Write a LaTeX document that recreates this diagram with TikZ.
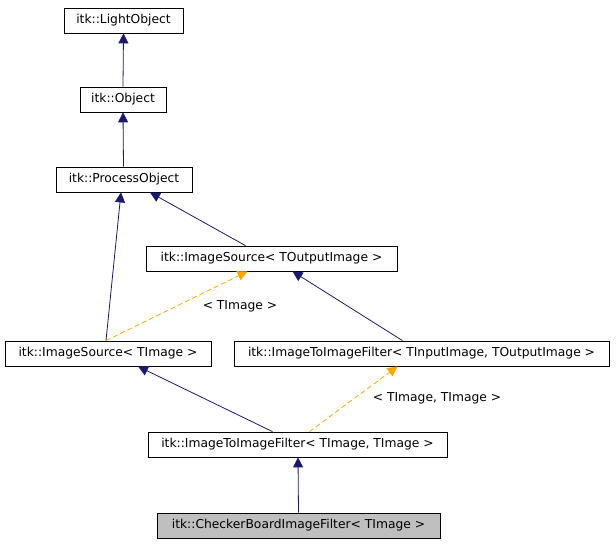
\documentclass[tikz,border=0pt]{standalone}
\usepackage{fontspec}
\setmainfont{DejaVu Sans}
\usetikzlibrary{calc,arrows.meta}
\definecolor{navy}{HTML}{191970}
\definecolor{orng}{HTML}{FFA500}
\begin{document}
\begin{tikzpicture}[x=1pt,y=-1pt,
  box/.style={draw,fill=white,minimum height=25pt,inner sep=0pt,font=\fontsize{12.3}{14}\selectfont,line width=0.8pt},
  inh/.style={navy,line width=0.8pt,-{Triangle[length=10pt,width=10pt]}},
  tmpl/.style={orng,line width=0.8pt,dashed,dash pattern=on 5pt off 3pt,-{Triangle[length=10pt,width=10pt]}},
  lbl/.style={font=\fontsize{12.3}{14}\selectfont}]
\useasboundingbox (0,0) rectangle (616,547);
\node[box,minimum width=119pt] (lo) at (123.5,20.5) {itk::LightObject};
\node[box,minimum width=86pt] (ob) at (123,99.5) {itk::Object};
\node[box,minimum width=136pt] (po) at (124,179.5) {itk::ProcessObject};
\node[box,minimum width=251pt] (iso) at (271.5,258.5) {itk::ImageSource< TOutputImage >};
\node[box,minimum width=206pt] (isi) at (108,353.5) {itk::ImageSource< TImage >};
\node[box,minimum width=375pt] (itio) at (421.5,353.5) {itk::ImageToImageFilter< TInputImage, TOutputImage >};
\node[box,minimum width=299pt] (itii) at (297.5,444.5) {itk::ImageToImageFilter< TImage, TImage >};
\node[box,minimum width=283pt,fill={rgb,255:red,191;green,191;blue,191}] (cb) at (298.5,525.5) {itk::CheckerBoardImageFilter< TImage >};
\draw[inh] (ob.north) -- (lo.south);
\draw[inh] ([xshift=-0.5pt]po.north) -- (ob.south);
\draw[inh] ([xshift=-26pt]iso.north) -- ([xshift=26pt]po.south);
\draw[inh] ([xshift=-2pt]isi.north) -- ([xshift=-3pt]po.south);
\draw[inh] ([xshift=-19pt]itio.north) -- ([xshift=21pt]iso.south);
\draw[inh] ([xshift=-25pt]itii.north) -- ([xshift=30pt]isi.south);
\draw[inh] (cb.north) -- ([xshift=0.5pt]itii.south);
\draw[tmpl] ([xshift=-2pt]isi.north) -- ([xshift=-24pt]iso.south);
\node[lbl] (l1) at (240,306) {< TImage >};
\draw[tmpl] ([xshift=12pt]itii.north) -- ([xshift=-24pt]itio.south);
\node[lbl] (l2) at (437,398) {< TImage, TImage >};
\end{tikzpicture}
\end{document}
